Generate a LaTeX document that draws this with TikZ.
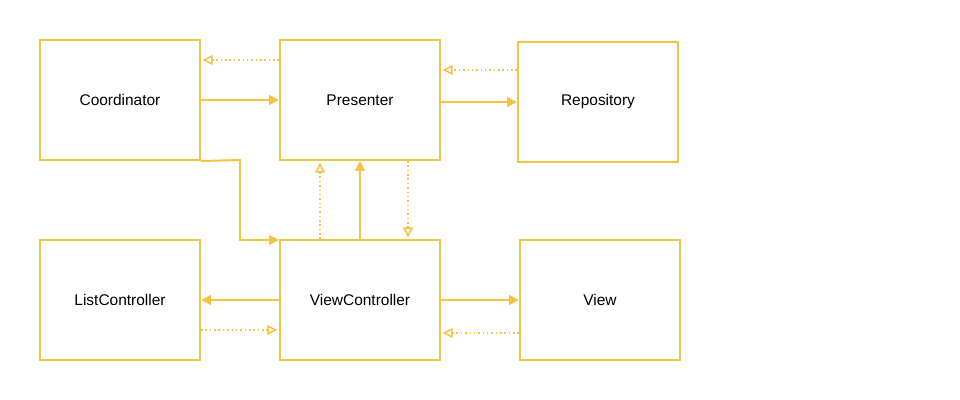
\documentclass[tikz,border=0pt]{standalone}
\usepackage{fontspec}
\setmainfont{Liberation Sans}
\usetikzlibrary{arrows.meta}
\definecolor{boxyellow}{HTML}{F2C443}

\tikzset{
  box/.style={draw=boxyellow, line width=1.4pt, minimum width=4cm, minimum height=3cm, font=\fontsize{11pt}{13pt}\selectfont},
  uses/.style={draw=boxyellow, line width=1.4pt, -{Triangle[length=7pt,width=7pt]}},
  talks/.style={draw=boxyellow, line width=1.1pt, dotted, -{Triangle[open,length=7pt,width=7pt,line width=1.1pt,sep]}},
}

\begin{document}
\begin{tikzpicture}[x=0.025cm,y=-0.025cm]
\useasboundingbox (0,0) rectangle (960,400);

\node[box] (coord) at (120,100) {Coordinator};
\node[box] (pres) at (360,100) {Presenter};
\node[box] (repo) at (598,102) {Repository};
\node[box] (list) at (120,300) {ListController};
\node[box] (vc) at (360,300) {ViewController};
\node[box] (view) at (600,300) {View};

% top row
\draw[uses] (coord.east |- 0,100) -- (pres.west |- 0,100);
\draw[talks] (pres.west |- 0,60) -- (coord.east |- 0,60);
\draw[uses] (pres.east |- 0,102) -- (repo.west |- 0,102);
\draw[talks] (repo.west |- 0,70) -- (pres.east |- 0,70);

% coordinator to view controller
\draw[uses] (coord.south east) -- (240,160) -- (240,240) -- (vc.west |- 0,240);

% presenter <-> view controller
\draw[talks] (vc.north -| 320,0) -- (pres.south -| 320,0);
\draw[uses] (vc.north) -- (pres.south);
\draw[talks] (pres.south -| 408,0) -- (vc.north -| 408,0);

% bottom row
\draw[uses] (vc.west) -- (list.east);
\draw[talks] (list.east |- 0,330) -- (vc.west |- 0,330);
\draw[uses] (vc.east) -- (view.west);
\draw[talks] (view.west |- 0,333) -- (vc.east |- 0,333);
\end{tikzpicture}
\end{document}
